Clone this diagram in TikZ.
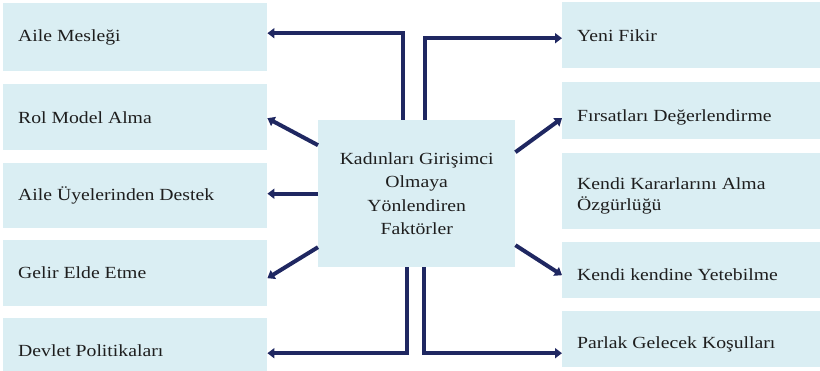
\documentclass[tikz,border=0pt]{standalone}
\usepackage{fontspec}
\setmainfont{Liberation Serif}[FakeStretch=1.16]
\usepackage{xcolor}
\usetikzlibrary{arrows.meta, positioning}
\definecolor{kutumavi}{HTML}{DAEEF3}
\definecolor{oklacivert}{HTML}{1F2761}
\definecolor{yazi}{HTML}{1E1E1E}
\tikzset{
	faktor/.style={fill=kutumavi, inner sep=0pt, anchor=north west},
	etiket/.style={anchor=base west, inner sep=0pt, text=yazi, font=\fontsize{17}{21}\selectfont, align=left},
	okcizgi/.style={draw=oklacivert, line width=4pt, -{Triangle[length=7pt, width=10pt]}}
}

\begin{document}
\begin{tikzpicture}[x=1pt, y=-1pt]
			\useasboundingbox (0,0) rectangle (820,371);
			%% sol kutular
			\node [faktor, minimum width=264pt, minimum height=68pt] (meslek) at (3,3) {};
			\node [faktor, minimum width=264pt, minimum height=66pt] (rolmodel) at (3,84) {};
			\node [faktor, minimum width=264pt, minimum height=65pt] (destek) at (3,163) {};
			\node [faktor, minimum width=264pt, minimum height=66pt] (gelir) at (3,240) {};
			\node [faktor, minimum width=264pt, minimum height=53pt] (devlet) at (3,318) {};
			%% sag kutular
			\node [faktor, minimum width=258pt, minimum height=66pt] (fikir) at (562,2) {};
			\node [faktor, minimum width=258pt, minimum height=57pt] (firsat) at (562,82) {};
			\node [faktor, minimum width=258pt, minimum height=76pt] (ozgurluk) at (562,153) {};
			\node [faktor, minimum width=258pt, minimum height=56pt] (yetebilme) at (562,242) {};
			\node [faktor, minimum width=258pt, minimum height=56pt] (gelecek) at (562,311) {};
			%% orta kutu
			\node [faktor, minimum width=197pt, minimum height=147pt, text=yazi,
			font=\fontsize{17}{23.3}\selectfont, align=center] (merkez) at (318,120)
			{Kadınları Girişimci\\Olmaya\\Yönlendiren\\Faktörler};
			
			\path
			(18,42) node [etiket] (t1) {Aile Mesleği}
			(18,124) node [etiket] (t2) {Rol Model Alma}
			(18,201) node [etiket] (t3) {Aile Üyelerinden Destek}
			(18,279) node [etiket] (t4) {Gelir Elde Etme}
			(18,357) node [etiket] (t5) {Devlet Politikaları}
			%%
			(577,42) node [etiket] (t6) {Yeni Fikir}
			(577,122) node [etiket] (t7) {Fırsatları Değerlendirme}
			(577,190) node [etiket] (t8) {Kendi Kararlarını Alma}
			(577,211) node [etiket] (t9) {Özgürlüğü}
			(577,281) node [etiket] (t10) {Kendi kendine Yetebilme}
			(577,349) node [etiket] (t11) {Parlak Gelecek Koşulları};
			
			%% oklar
			\draw [okcizgi] ([xshift=-13.5pt]merkez.north) |- ([yshift=4pt]meslek.east);
			\draw [okcizgi] ([xshift=8.5pt]merkez.north) |- ([yshift=-3pt]fikir.west);
			\draw [okcizgi] ([yshift=48.5pt]merkez.west) -- ([yshift=-1pt]rolmodel.east);
			\draw [okcizgi] (merkez.west) -- (merkez.west -| destek.east);
			\draw [okcizgi] ([yshift=-53.5pt]merkez.west) -- ([yshift=-5pt]gelir.east);
			\draw [okcizgi] ([xshift=-9.5pt]merkez.south) |- ([yshift=-8.5pt]devlet.east);
			\draw [okcizgi] ([xshift=7.5pt]merkez.south) |- ([yshift=-14pt]gelecek.west);
			\draw [okcizgi] ([yshift=41.5pt]merkez.east) -- ([yshift=-7.5pt]firsat.west);
			\draw [okcizgi] ([yshift=-51.5pt]merkez.east) -- ([yshift=-5pt]yetebilme.west);
		\end{tikzpicture}
\end{document}
